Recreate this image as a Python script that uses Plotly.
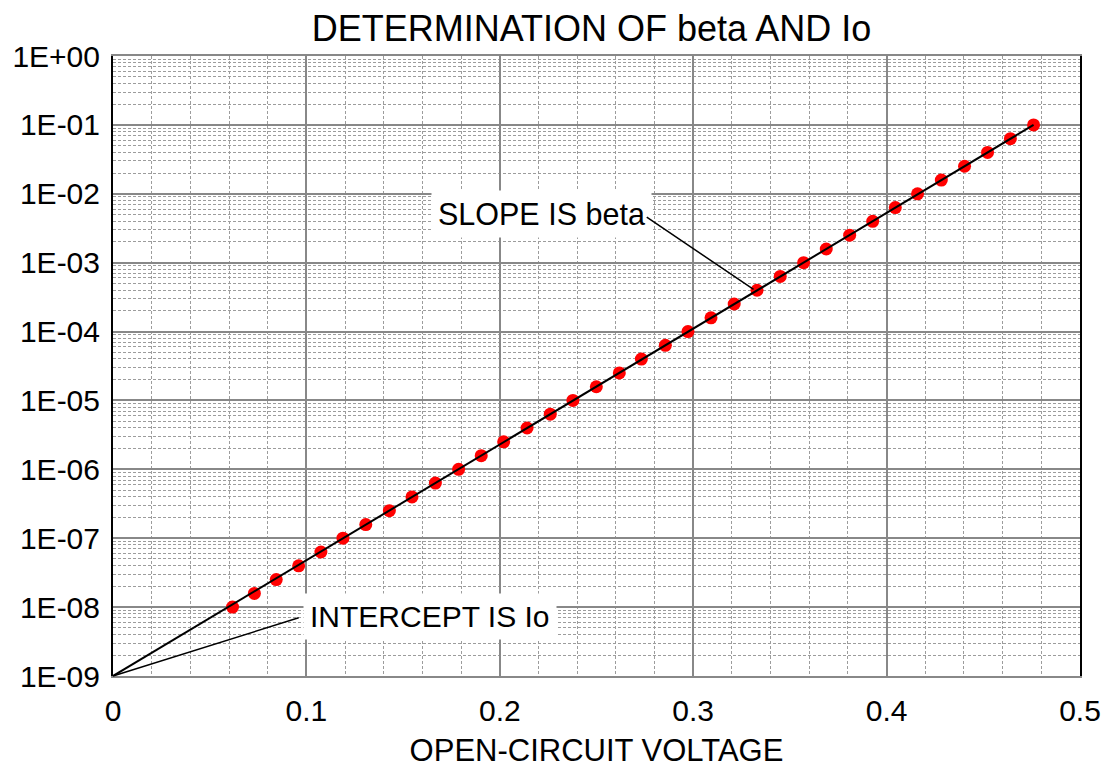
import math
import plotly.graph_objects as go

# Open-circuit voltage (V) and short-circuit current (A) measurements
voc = [0.0618, 0.0731, 0.0844, 0.0960, 0.1075, 0.1189, 0.1307, 0.1429, 0.1546,
       0.1667, 0.1787, 0.1904, 0.2020, 0.2141, 0.2261, 0.2378, 0.2499, 0.2618,
       0.2732, 0.2856, 0.2973, 0.3092, 0.3212, 0.3330, 0.3450, 0.3571, 0.3688,
       0.3809, 0.3928, 0.4045, 0.4160, 0.4283, 0.4403, 0.4522, 0.4640, 0.4760]
isc = [1.00e-8, 1.58e-8, 2.51e-8, 3.98e-8, 6.31e-8,
       1.00e-7, 1.58e-7, 2.51e-7, 3.98e-7, 6.31e-7,
       1.00e-6, 1.58e-6, 2.51e-6, 3.98e-6, 6.31e-6,
       1.00e-5, 1.58e-5, 2.51e-5, 3.98e-5, 6.31e-5,
       1.00e-4, 1.58e-4, 2.51e-4, 3.98e-4, 6.31e-4,
       1.00e-3, 1.58e-3, 2.51e-3, 3.98e-3, 6.31e-3,
       1.00e-2, 1.58e-2, 2.51e-2, 3.98e-2, 6.31e-2,
       1.00e-1]
io = 1e-9  # intercept of the fitted line at Voc = 0

x_ticks = [0, 0.1, 0.2, 0.3, 0.4, 0.5]
x_labels = ["0", "0.1", "0.2", "0.3", "0.4", "0.5"]
y_ticks = [1e-9, 1e-8, 1e-7, 1e-6, 1e-5, 1e-4, 1e-3, 1e-2, 1e-1, 1e0]
y_labels = ["1E-09", "1E-08", "1E-07", "1E-06", "1E-05", "1E-04",
            "1E-03", "1E-02", "1E-01", "1E+00"]

FONT = "Arial, 'Liberation Sans', sans-serif"
MAJOR = "#888888"
MINOR = "#9c9c9c"

x_minor = [round(0.02 * k, 2) for k in range(1, 25) if k % 5]
y_minor = [m * 10.0 ** e for e in range(-9, 0) for m in range(2, 10)]

fig = go.Figure()

# measured points
fig.add_trace(go.Scatter(x=voc, y=isc, mode="markers",
                         marker=dict(color="#ff0000", size=13, line=dict(width=0)),
                         showlegend=False))

# fitted straight line from the intercept through the data
fig.add_trace(go.Scatter(x=[0, voc[-1]], y=[io, isc[-1]], mode="lines",
                         line=dict(color="black", width=2),
                         showlegend=False))

# callout labels on white boxes (log axis -> positions given as log10)
fig.add_annotation(text="SLOPE IS beta", x=0.1642, y=-2.29, xref="x", yref="y",
                   xanchor="left", yanchor="middle", showarrow=False,
                   bgcolor="white", borderpad=6,
                   font=dict(family=FONT, size=30.5, color="black"))
fig.add_annotation(text="INTERCEPT IS Io", x=0.0980, y=-8.14, xref="x", yref="y",
                   xanchor="left", yanchor="middle", showarrow=False,
                   bgcolor="white", borderpad=6,
                   font=dict(family=FONT, size=30, color="black"))

# leader lines from the labels to the fitted line / intercept
fig.add_annotation(text="", x=0.3312, y=math.log10(4.09e-4),
                   ax=0.2752, ay=math.log10(4.74e-3), xref="x", yref="y",
                   axref="x", ayref="y", showarrow=True, arrowhead=0,
                   arrowwidth=1.5, arrowcolor="black", standoff=0, startstandoff=0,
                   font=dict(size=1))
fig.add_annotation(text="", x=0, y=math.log10(io),
                   ax=0.0968, ay=math.log10(7.1e-9), xref="x", yref="y",
                   axref="x", ayref="y", showarrow=True, arrowhead=0,
                   arrowwidth=1.5, arrowcolor="black", standoff=0, startstandoff=0,
                   font=dict(size=1))

fig.update_layout(
    width=1103, height=768,
    margin=dict(l=113, r=23, t=56, b=92),
    paper_bgcolor="white", plot_bgcolor="white",
    font=dict(family=FONT, color="black"),
    title=dict(text="DETERMINATION OF beta AND Io", x=0.4948, xref="paper",
               y=1 - 28 / 768, yref="container", xanchor="center", yanchor="middle",
               font=dict(family=FONT, size=36, color="black")),
    xaxis=dict(range=[0, 0.5], tickmode="array", tickvals=x_ticks, ticktext=x_labels,
               showgrid=True, gridcolor=MAJOR, gridwidth=2, zeroline=False,
               showline=True, linecolor=MAJOR, linewidth=2, mirror=True,
               ticks="", ticklabelstandoff=7, automargin=False,
               tickfont=dict(family=FONT, size=30, color="black"),
               minor=dict(tickmode="array", tickvals=x_minor, showgrid=True,
                          gridcolor=MINOR, gridwidth=1, griddash="3px,2px", ticks=""),
               title=dict(text="OPEN-CIRCUIT VOLTAGE", standoff=16,
                          font=dict(family=FONT, size=31, color="black"))),
    yaxis=dict(type="log", range=[-9, 0], tickmode="array", tickvals=y_ticks,
               ticktext=y_labels, showgrid=True, gridcolor=MAJOR, gridwidth=2,
               zeroline=False, showline=True, linecolor="black", linewidth=2,
               mirror=True, ticks="", ticklabelstandoff=5, automargin=False,
               tickfont=dict(family=FONT, size=30, color="black"),
               minor=dict(tickmode="array", tickvals=y_minor, showgrid=True,
                          gridcolor=MINOR, gridwidth=1, griddash="3px,2px", ticks="")),
)

fig.write_html("out.html")
